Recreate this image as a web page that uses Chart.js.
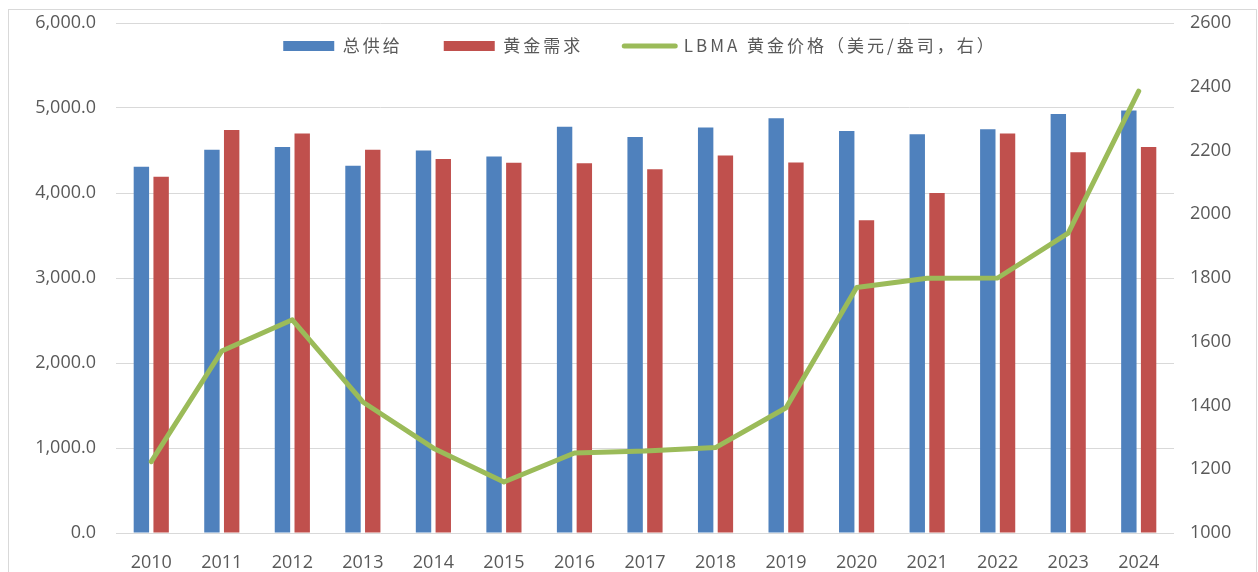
<!DOCTYPE html>
<html>
<head>
<meta charset="utf-8">
<script src="https://cdn.jsdelivr.net/npm/chart.js@4/dist/chart.umd.min.js"></script>
<style>
  html, body { margin: 0; padding: 0; background: #fff; }
  canvas { display: block; }
</style>
</head>
<body>
<canvas id="goldChart" width="1258" height="572"></canvas>
<script>
// data
const years = ["2010", "2011", "2012", "2013", "2014", "2015", "2016", "2017",
  "2018", "2019", "2020", "2021", "2022", "2023", "2024"];
const totalSupply = [4310, 4510, 4540, 4320, 4500, 4430, 4780, 4660, 4770, 4880, 4730, 4690, 4750, 4930, 4970];
const goldDemand = [4190, 4740, 4700, 4510, 4400, 4355, 4350, 4280, 4440, 4360, 3680, 4000, 4700, 4480, 4540];
const lbmaPrice = [1224, 1571, 1669, 1411, 1266, 1160, 1251, 1257, 1268, 1393, 1770, 1799, 1800, 1941, 2386];
const leftTicks = [0, 1000, 2000, 3000, 4000, 5000, 6000];
const rightTicks = [1000, 1200, 1400, 1600, 1800, 2000, 2200, 2400, 2600];

const BLUE = "#4F81BD";
const RED = "#C0504D";
const GREEN = "#9BBB59";
const TEXT = "#595959";
const GRID = "#D9D9D9";

// outer frame, like the exported Excel chart
const frame = {
  id: "frame",
  beforeDraw(chart) {
    const ctx = chart.ctx;
    ctx.save();
    ctx.fillStyle = "#fff";
    ctx.fillRect(0, 0, chart.width, chart.height);
    ctx.strokeStyle = GRID;
    ctx.lineWidth = 1;
    ctx.strokeRect(8.5, 9.5, 1248, 620);
    ctx.restore();
  }
};

// legend sits inside the plot area and takes no layout space;
// the legend text gets a bit of letter spacing like the original
const legendInPlot = {
  id: "legendInPlot",
  afterInit(chart) {
    const lg = chart.legend;
    const fit = lg.fit.bind(lg);
    const draw = lg.draw.bind(lg);
    lg.fit = function () {
      chart.ctx.letterSpacing = "3px";
      fit();
      chart.ctx.letterSpacing = "0px";
      this.height = 0;
    };
    lg.draw = function (area) {
      chart.ctx.letterSpacing = "3px";
      draw(area);
      chart.ctx.letterSpacing = "0px";
    };
  },
  afterLayout(chart) {
    const lg = chart.legend;
    const top = 37.5 - 41;
    lg.top = top;
    lg.bottom = top + 100;
    lg.left = 11;
    lg.right = 1258 + 11;
  }
};

// fixed axis widths, and no extra vertical padding from tick padding
function fixWidth(w) {
  return (scale) => {
    scale.width = w;
    scale.paddingTop = 0;
    scale.paddingBottom = 0;
  };
}

new Chart(document.getElementById("goldChart"), {
  data: {
    labels: years,
    datasets: [
      {
        type: "bar",
        label: "总供给",
        data: totalSupply,
        backgroundColor: BLUE,
        yAxisID: "y",
        order: 1,
        barPercentage: 0.78,
        categoryPercentage: 0.56
      },
      {
        type: "bar",
        label: "黄金需求",
        data: goldDemand,
        backgroundColor: RED,
        yAxisID: "y",
        order: 1,
        barPercentage: 0.78,
        categoryPercentage: 0.56
      },
      {
        type: "line",
        label: "LBMA 黄金价格（美元/盎司，右）",
        data: lbmaPrice,
        borderColor: GREEN,
        backgroundColor: GREEN,
        borderWidth: 5,
        borderCapStyle: "round",
        borderJoinStyle: "round",
        pointRadius: 0,
        tension: 0,
        yAxisID: "y1",
        order: 0
      }
    ]
  },
  options: {
    responsive: false,
    animation: false,
    devicePixelRatio: 1,
    layout: { padding: { top: 23, left: 0, right: 0, bottom: 0 } },
    plugins: {
      tooltip: { enabled: false },
      legend: {
        position: "top",
        align: "center",
        labels: {
          color: TEXT,
          font: { family: "'Noto Sans CJK SC', sans-serif", size: 17 },
          usePointStyle: true,
          pointStyleWidth: 51,
          boxHeight: 10,
          padding: 41,
          sort: (a, b) => a.datasetIndex - b.datasetIndex,
          generateLabels(chart) {
            const items = Chart.defaults.plugins.legend.labels.generateLabels(chart);
            items.forEach((it) => {
              const ds = chart.data.datasets[it.datasetIndex];
              if (ds.type === "line") {
                it.pointStyle = "line";
                it.lineWidth = 5;
                it.strokeStyle = GREEN;
                it.lineCap = "round";
              } else {
                it.pointStyle = "rect";
                it.lineWidth = 0;
              }
            });
            return items;
          }
        }
      }
    },
    scales: {
      x: {
        grid: { display: false },
        border: { display: false },
        ticks: {
          color: TEXT,
          padding: 11,
          font: { family: "'Open Sans', sans-serif", size: 18 }
        },
        afterFit(scale) { scale.height = 39; }
      },
      y: {
        position: "left",
        min: 0,
        max: 6000,
        grid: { color: GRID, lineWidth: 1, drawTicks: false },
        border: { display: false },
        afterBuildTicks(scale) { scale.ticks = leftTicks.map((v) => ({ value: v })); },
        ticks: {
          color: TEXT,
          padding: 20,
          font: { family: "'Open Sans', sans-serif", size: 18 },
          callback: (v) => v.toLocaleString("en-US", { minimumFractionDigits: 1, maximumFractionDigits: 1 })
        },
        afterFit: fixWidth(116)
      },
      y1: {
        position: "right",
        min: 1000,
        max: 2600,
        grid: { display: false, drawTicks: false },
        border: { display: false },
        afterBuildTicks(scale) { scale.ticks = rightTicks.map((v) => ({ value: v })); },
        ticks: {
          color: TEXT,
          padding: 16,
          font: { family: "'Open Sans', sans-serif", size: 18 },
          callback: (v) => String(v)
        },
        afterFit: fixWidth(84)
      }
    }
  },
  plugins: [frame, legendInPlot]
});
</script>
</body>
</html>
